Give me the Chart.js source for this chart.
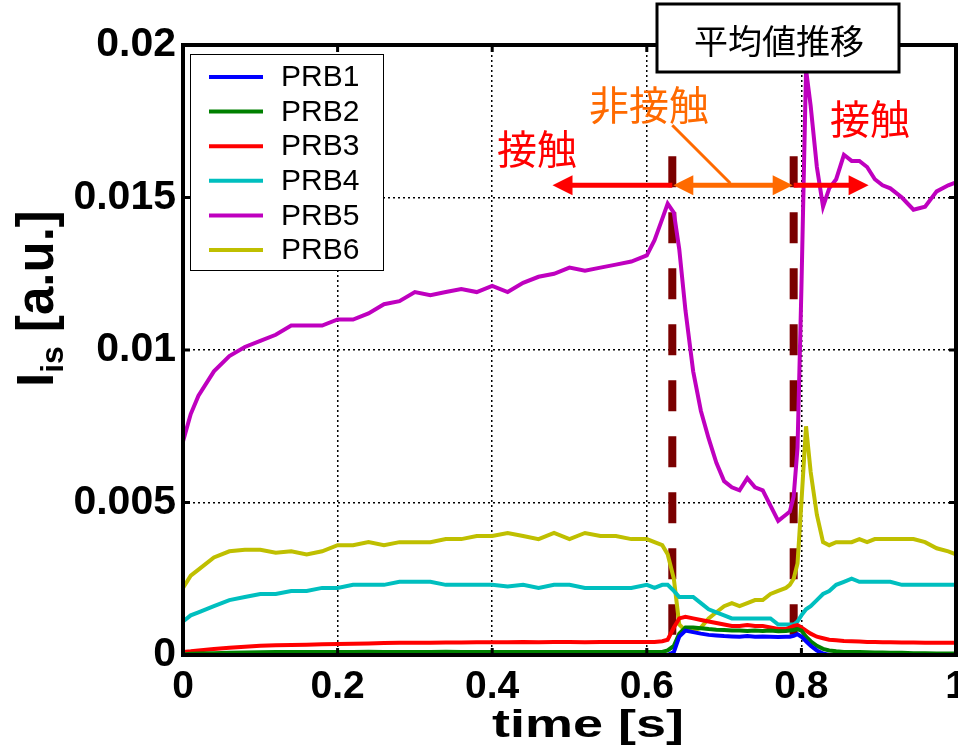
<!DOCTYPE html>
<html>
<head>
<meta charset="utf-8">
<script src="https://cdn.jsdelivr.net/npm/chart.js@4/dist/chart.umd.min.js"></script>
<style>
  html, body { margin: 0; padding: 0; background: #fff; }
  #wrap { width: 958px; height: 755px; position: relative; }
</style>
</head>
<body>
<div id="wrap"><canvas id="chart" width="958" height="755"></canvas></div>
<script>
// time axis [s]
const times = [0, 0.01, 0.02, 0.04, 0.06, 0.08, 0.10, 0.12, 0.14, 0.16, 0.18, 0.20, 0.22, 0.24, 0.26, 0.28, 0.30,
  0.32, 0.34, 0.36, 0.38, 0.40, 0.42, 0.44, 0.46, 0.48, 0.50, 0.52, 0.54, 0.56, 0.58, 0.60, 0.61, 0.62, 0.627,
  0.635, 0.642, 0.65, 0.66, 0.67, 0.68, 0.69, 0.70, 0.71, 0.72, 0.73, 0.74, 0.75, 0.76, 0.77, 0.78, 0.785, 0.79,
  0.795, 0.80, 0.806, 0.812, 0.82, 0.828, 0.836, 0.845, 0.855, 0.865, 0.875, 0.885, 0.895, 0.905, 0.915, 0.93,
  0.945, 0.96, 0.975, 0.99, 1.0];

// Iis values per probe [a.u.]
const prb1 = [0, 0, 0, 0, 0, 0, 0, 0, 0, 0, 0, 0, 0, 0, 0, 0, 0,
  0, 0, 0, 0, 0, 0, 0, 0, 0, 0, 0, 0, 0, 0, 0, 0, 0, 0,
  0.0001, 0.0006, 0.0008, 0.00075, 0.0007, 0.00066, 0.00064, 0.00062, 0.00061, 0.0006, 0.00062, 0.0006, 0.00061, 0.0006, 0.00059, 0.0006, 0.0006, 0.00063,
  0.00068, 0.0006, 0.00045, 0.0003, 0.00015, 0.00005, 0, 0, 0, 0, 0, 0, 0, 0, 0, 0,
  0, 0, 0, 0, 0];
const prb2 = [0.00002, 0.00004, 0.00005, 0.00006, 0.00007, 0.00008, 0.00009, 0.0001, 0.0001, 0.0001, 0.0001, 0.0001, 0.0001, 0.00011, 0.0001, 0.0001, 0.0001,
  0.0001, 0.00011, 0.0001, 0.0001, 0.0001, 0.0001, 0.0001, 0.0001, 0.0001, 0.0001, 0.0001, 0.0001, 0.0001, 0.0001, 0.0001, 0.0001, 0.0001, 0.00015,
  0.0003, 0.0007, 0.0009, 0.0009, 0.00088, 0.00085, 0.00083, 0.00082, 0.0008, 0.0008, 0.00079, 0.0008, 0.00079, 0.0008, 0.00078, 0.00079, 0.0008, 0.00082,
  0.00085, 0.0008, 0.0006, 0.00045, 0.0003, 0.0002, 0.00015, 0.00012, 0.0001, 0.0001, 0.0001, 0.00009, 0.00008, 0.00008, 0.00007, 0.00007,
  0.00006, 0.00006, 0.00005, 0.00005, 0.00005];
const prb3 = [0.0001, 0.00012, 0.00015, 0.0002, 0.00024, 0.00027, 0.0003, 0.00032, 0.00033, 0.00034, 0.00035, 0.00036, 0.00037, 0.00038, 0.00039, 0.0004, 0.0004,
  0.0004, 0.00041, 0.00041, 0.00042, 0.00042, 0.00042, 0.00043, 0.00042, 0.00043, 0.00043, 0.00042, 0.00043, 0.00043, 0.00043, 0.00043, 0.00043, 0.00045, 0.0005,
  0.0009, 0.0012, 0.00125, 0.0012, 0.00115, 0.0011, 0.00105, 0.001, 0.00095, 0.00095, 0.00098, 0.00095, 0.00095, 0.0009, 0.00085, 0.00085, 0.0009, 0.00095,
  0.00098, 0.0009, 0.0008, 0.0007, 0.0006, 0.00055, 0.0005, 0.00048, 0.00046, 0.00045, 0.00044, 0.00043, 0.00043, 0.00042, 0.00042, 0.00041,
  0.00041, 0.0004, 0.0004, 0.0004, 0.0004];
const prb4 = [0.0011, 0.0013, 0.0014, 0.0016, 0.0018, 0.0019, 0.002, 0.002, 0.0021, 0.0021, 0.0022, 0.0022, 0.0023, 0.0023, 0.0023, 0.0024, 0.0024,
  0.0024, 0.0023, 0.0023, 0.0023, 0.0023, 0.00225, 0.0023, 0.0022, 0.0023, 0.0023, 0.0022, 0.0022, 0.0022, 0.0022, 0.0023, 0.0022, 0.0023, 0.0023,
  0.0021, 0.0019, 0.0019, 0.0019, 0.0017, 0.0015, 0.0014, 0.0013, 0.0012, 0.0012, 0.0012, 0.0012, 0.0012, 0.0012, 0.001, 0.001, 0.001, 0.001,
  0.0011, 0.0013, 0.0015, 0.0016, 0.0018, 0.002, 0.0021, 0.0023, 0.0024, 0.0025, 0.0024, 0.0024, 0.0024, 0.0024, 0.0024, 0.0023,
  0.0023, 0.0023, 0.0023, 0.0023, 0.0023];
const prb5 = [0.007, 0.0079, 0.0085, 0.0093, 0.0098, 0.0101, 0.0103, 0.0105, 0.0108, 0.0108, 0.0108, 0.011, 0.011, 0.0112, 0.0115, 0.0116, 0.0119,
  0.0118, 0.0119, 0.012, 0.0119, 0.0121, 0.0119, 0.0122, 0.0124, 0.0125, 0.0127, 0.0126, 0.0127, 0.0128, 0.0129, 0.0131, 0.0136, 0.0143, 0.0148,
  0.0145, 0.0133, 0.0113, 0.0093, 0.008, 0.0071, 0.0063, 0.0057, 0.0055, 0.0054, 0.0058, 0.0055, 0.0054, 0.0049, 0.0044, 0.0046, 0.0047, 0.0052,
  0.0068, 0.012, 0.0192, 0.018, 0.016, 0.0147, 0.0153, 0.0156, 0.0164, 0.0162, 0.0162, 0.016, 0.0156, 0.0154, 0.0153, 0.015,
  0.0146, 0.0147, 0.0152, 0.0154, 0.0155];
const prb6 = [0.0022, 0.0026, 0.0028, 0.0032, 0.0034, 0.00345, 0.00345, 0.00335, 0.0034, 0.0033, 0.0034, 0.0036, 0.0036, 0.0037, 0.0036, 0.0037, 0.0037,
  0.0037, 0.0038, 0.0038, 0.0039, 0.0039, 0.004, 0.0039, 0.0038, 0.004, 0.0038, 0.004, 0.0039, 0.0039, 0.0038, 0.0038, 0.0037, 0.0036, 0.0033,
  0.0025, 0.001, 0.0008, 0.00078, 0.0009, 0.0012, 0.0014, 0.0016, 0.0017, 0.0016, 0.0017, 0.0018, 0.0018, 0.002, 0.0021, 0.0022, 0.0023, 0.0025,
  0.003, 0.005, 0.0075, 0.006, 0.0046, 0.0037, 0.0036, 0.0037, 0.0037, 0.0037, 0.0038, 0.0037, 0.0038, 0.0038, 0.0038, 0.0038,
  0.0038, 0.0037, 0.0035, 0.0034, 0.0033];

const seriesNames = ['PRB1', 'PRB2', 'PRB3', 'PRB4', 'PRB5', 'PRB6'];
const seriesColors = ['#0000ff', '#008000', '#ff0000', '#00bfbf', '#bf00bf', '#bfbf00'];
const seriesValues = [prb1, prb2, prb3, prb4, prb5, prb6];

// contact / non-contact boundaries [s] and the dashed marker span [a.u.]
const boundaries = [0.633, 0.79];
const markerSpan = [0.01635, 0.00066];

// arrows: y level and x extents
const arrowLevel = 0.0154;
const arrowLeftEnd = 0.478;
const arrowRightEnd = 0.887;

const xTicks = [0, 0.2, 0.4, 0.6, 0.8, 1];
const yTicks = [0, 0.005, 0.01, 0.015, 0.02];

const datasets = seriesNames.map((name, i) => ({
  label: name,
  data: times.map((t, j) => ({ x: t, y: seriesValues[i][j] })),
  borderColor: seriesColors[i],
  borderWidth: 4,
  pointRadius: 0,
  tension: 0,
  fill: false
}));

boundaries.forEach(b => {
  datasets.push({
    label: 'boundary',
    data: [{ x: b, y: markerSpan[0] }, { x: b, y: markerSpan[1] }],
    borderColor: '#7a0000',
    borderWidth: 8,
    borderDash: [31, 25],
    borderCapStyle: 'butt',
    pointRadius: 0,
    fill: false
  });
});

const FONT = '"Liberation Sans", Arial, sans-serif';
const CJK = '"Noto Sans CJK JP", sans-serif';

function drawArrowHead(ctx, x, y, dir, color) {
  ctx.fillStyle = color;
  ctx.beginPath();
  ctx.moveTo(x, y);
  ctx.lineTo(x - dir * 20, y - 10);
  ctx.lineTo(x - dir * 20, y + 10);
  ctx.closePath();
  ctx.fill();
}

const decorations = {
  id: 'decorations',
  afterDatasetsDraw(chart) {
    const ctx = chart.ctx;
    const xs = chart.scales.x, ys = chart.scales.y;
    const a = chart.chartArea;
    ctx.save();

    // frame with inward ticks
    ctx.strokeStyle = '#000';
    ctx.lineWidth = 4;
    ctx.strokeRect(a.left, a.top, a.right - a.left, a.bottom - a.top);
    ctx.lineWidth = 3;
    ctx.beginPath();
    xTicks.forEach(v => {
      const px = xs.getPixelForValue(v);
      ctx.moveTo(px, a.bottom); ctx.lineTo(px, a.bottom - 7);
      ctx.moveTo(px, a.top); ctx.lineTo(px, a.top + 7);
    });
    yTicks.forEach(v => {
      const py = ys.getPixelForValue(v);
      ctx.moveTo(a.left, py); ctx.lineTo(a.left + 7, py);
      ctx.moveTo(a.right, py); ctx.lineTo(a.right - 7, py);
    });
    ctx.stroke();

    // arrows
    const ay = ys.getPixelForValue(arrowLevel);
    const b0 = xs.getPixelForValue(boundaries[0]);
    const b1 = xs.getPixelForValue(boundaries[1]);
    const xl = xs.getPixelForValue(arrowLeftEnd);
    const xr = xs.getPixelForValue(arrowRightEnd);
    ctx.lineWidth = 5;
    ctx.lineCap = 'butt';
    ctx.strokeStyle = '#ff0000';
    ctx.beginPath();
    ctx.moveTo(xl + 15, ay); ctx.lineTo(b0, ay);
    ctx.moveTo(b1, ay); ctx.lineTo(xr - 15, ay);
    ctx.stroke();
    drawArrowHead(ctx, xl, ay, -1, '#ff0000');
    drawArrowHead(ctx, xr, ay, 1, '#ff0000');
    ctx.strokeStyle = '#ff6a00';
    ctx.beginPath();
    ctx.moveTo(b0 + 15, ay); ctx.lineTo(b1 - 15, ay);
    ctx.stroke();
    drawArrowHead(ctx, b0 + 1, ay, -1, '#ff6a00');
    drawArrowHead(ctx, b1 - 1, ay, 1, '#ff6a00');
    ctx.lineWidth = 3;
    ctx.beginPath();
    ctx.moveTo(b0, ay - 60);
    ctx.lineTo(b0 + 58, ay - 2);
    ctx.stroke();

    // labels
    ctx.textAlign = 'center';
    ctx.textBaseline = 'middle';
    ctx.font = '40px ' + CJK;
    ctx.fillStyle = '#ff0000';
    ctx.fillText('接触', 537, 149);
    ctx.fillText('接触', 870, 119);
    ctx.fillStyle = '#ff6a00';
    ctx.fillText('非接触', 649, 105);

    // boxed caption
    ctx.fillStyle = '#fff';
    ctx.fillRect(657, 4, 242, 68);
    ctx.strokeStyle = '#000';
    ctx.lineWidth = 3;
    ctx.strokeRect(657, 4, 242, 68);
    ctx.fillStyle = '#000';
    ctx.font = '34px ' + CJK;
    ctx.fillText('平均値推移', 779, 41);

    // legend
    ctx.fillStyle = '#fff';
    ctx.fillRect(190, 54, 193, 216);
    ctx.strokeStyle = '#000';
    ctx.lineWidth = 1;
    ctx.strokeRect(190.5, 54.5, 193, 216);
    ctx.font = '30px ' + FONT;
    ctx.textAlign = 'left';
    seriesNames.forEach((name, i) => {
      const ry = 77 + i * 34.6;
      ctx.strokeStyle = seriesColors[i];
      ctx.lineWidth = 4;
      ctx.beginPath();
      ctx.moveTo(209, ry); ctx.lineTo(263, ry);
      ctx.stroke();
      ctx.fillStyle = '#000';
      ctx.fillText(name, 281, ry + 1);
    });

    // axis titles
    ctx.fillStyle = '#000';
    ctx.save();
    ctx.translate(588, 737);
    ctx.scale(1.42, 1);
    ctx.font = 'bold 38px ' + FONT;
    ctx.textAlign = 'center';
    ctx.textBaseline = 'alphabetic';
    ctx.fillText('time [s]', 0, 0);
    ctx.restore();

    ctx.save();
    ctx.translate(53, 297);
    ctx.rotate(-Math.PI / 2);
    ctx.textAlign = 'left';
    ctx.textBaseline = 'alphabetic';
    let px = -90;
    ctx.font = 'bold 51px ' + FONT;
    ctx.fillText('I', px, 0);
    px += ctx.measureText('I').width;
    ctx.font = 'bold 32px ' + FONT;
    ctx.fillText('is', px, 10);
    px += ctx.measureText('is').width;
    ctx.font = 'bold 51px ' + FONT;
    ctx.fillText(' [a.u.]', px, 0);
    ctx.restore();

    ctx.restore();
  }
};

new Chart(document.getElementById('chart').getContext('2d'), {
  type: 'line',
  data: { datasets: datasets },
  options: {
    responsive: false,
    animation: false,
    layout: { padding: { top: 45, right: 2, left: 0, bottom: 0 } },
    plugins: { legend: { display: false }, tooltip: { enabled: false } },
    scales: {
      x: {
        type: 'linear',
        min: 0,
        max: 1,
        afterFit(scale) { scale.height = 100; scale.paddingLeft = 0; scale.paddingRight = 0; },
        afterBuildTicks(scale) { scale.ticks = xTicks.map(v => ({ value: v })); },
        ticks: {
          font: { family: FONT, size: 39, weight: 'bold' },
          color: '#000',
          padding: 9,
          maxRotation: 0,
          callback: v => String(v)
        },
        grid: { color: '#000', lineWidth: 1.5, drawTicks: false },
        border: { display: false, dash: [2, 3] }
      },
      y: {
        min: 0,
        max: 0.02,
        afterFit(scale) { scale.width = 183; scale.paddingTop = 0; scale.paddingBottom = 0; },
        afterBuildTicks(scale) { scale.ticks = yTicks.map(v => ({ value: v })); },
        ticks: {
          font: { family: FONT, size: 41, weight: 'bold' },
          color: '#000',
          padding: 7,
          callback: v => String(v)
        },
        grid: { color: '#000', lineWidth: 1.5, drawTicks: false },
        border: { display: false, dash: [2, 3] }
      }
    }
  },
  plugins: [decorations]
});
</script>
</body>
</html>
